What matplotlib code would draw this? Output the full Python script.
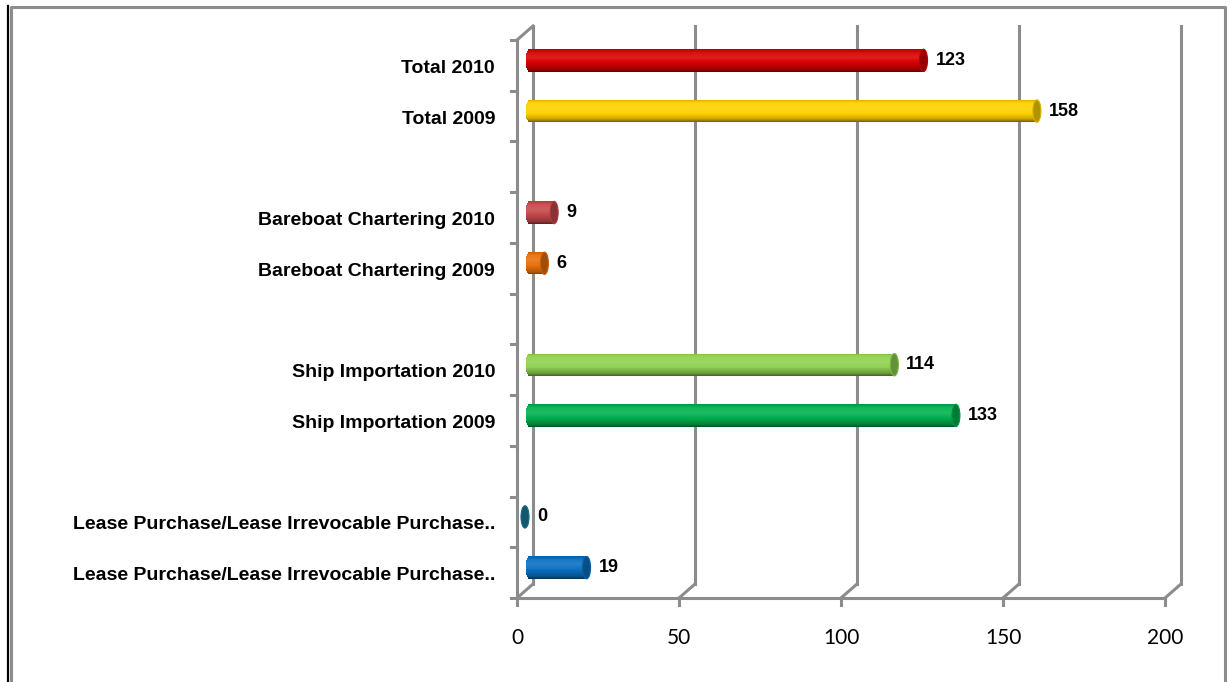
import matplotlib
matplotlib.use("Agg")
import matplotlib.pyplot as plt
import matplotlib.transforms as mtransforms
from matplotlib.patches import Ellipse
from matplotlib.lines import Line2D
import numpy as np
from matplotlib.colors import to_rgb

# ---- data (bottom to top) ----
categories = [
    "Lease Purchase/Lease Irrevocable Purchase..",
    "Lease Purchase/Lease Irrevocable Purchase..",
    "",
    "Ship Importation 2009",
    "Ship Importation 2010",
    "",
    "Bareboat Chartering 2009",
    "Bareboat Chartering 2010",
    "",
    "Total 2009",
    "Total 2010",
]
values = [19, 0, None, 133, 114, None, 6, 9, None, 158, 123]
colors = ["#0A6FC0", "#1B7C9C", None, "#00B04E", "#8FD14F", None,
          "#E8700C", "#C5484A", None, "#FFD000", "#D80000"]
xticks = [0, 50, 100, 150, 200]

W, H = 1230, 682
fig = plt.figure(figsize=(W / 100, H / 100), dpi=100)
fig.patch.set_facecolor("white")

x0p, x1p, y0p, y1p = 517, 1165, 598, 40
ax = fig.add_axes([x0p / W, 1 - y0p / H, (x1p - x0p) / W, (y0p - y1p) / H])
ax.set_xlim(0, 200)
ax.set_ylim(0, len(categories))
ax.axis("off")

grid_col = "#8C8C8C"
lw = 2.2

def off(dx, dy):
    return ax.transData + mtransforms.ScaledTranslation(dx / 100, dy / 100, fig.dpi_scale_trans)

n = len(categories)
# back-wall gridlines
gt = off(16, 14)
for xv in xticks:
    ax.add_line(Line2D([xv, xv], [0, n], color=grid_col, lw=lw, transform=gt,
                       clip_on=False, zorder=1))
for xv in xticks:
    px, py = ax.transData.transform((xv, 0))
    fig.add_artist(Line2D([px / W, (px + 16) / W], [py / H, (py + 14) / H],
                          color=grid_col, lw=lw, transform=fig.transFigure, zorder=1))
    fig.add_artist(Line2D([px / W, px / W], [py / H, (py - 7) / H],
                          color=grid_col, lw=lw, transform=fig.transFigure, zorder=1))
# top-left diagonal
px, py = ax.transData.transform((0, n))
fig.add_artist(Line2D([px / W, (px + 16) / W], [py / H, (py + 14) / H],
                      color=grid_col, lw=lw, transform=fig.transFigure, zorder=1))
# left axis and floor
ax.add_line(Line2D([0, 0], [0, n], color=grid_col, lw=lw, clip_on=False, zorder=1))
ax.add_line(Line2D([0, 200], [0, 0], color=grid_col, lw=lw, clip_on=False, zorder=1))
for k in range(n + 1):
    px, py = ax.transData.transform((0, k))
    fig.add_artist(Line2D([(px - 6) / W, px / W], [py / H, py / H],
                          color=grid_col, lw=lw, transform=fig.transFigure, zorder=1))

# bars as shaded cylinders
bt = off(8, 5)
bar_h = 0.44
nstrip = 24
sx = 200 / (x1p - x0p)  # data units per pixel
def shade(c, f):
    c = np.array(to_rgb(c))
    if f >= 0:
        return tuple(c + (1 - c) * f)
    return tuple(c * (1 + f))

for i, (v, c) in enumerate(zip(values, colors)):
    if v is None:
        continue
    capw = 8 * sx
    for s in range(nstrip):
        t = (s + 0.5) / nstrip  # 0 bottom, 1 top
        u = 2 * t - 1
        prof = np.interp(t, [0, 0.12, 0.4, 0.65, 0.85, 1.0],
                         [-0.55, -0.25, 0.0, 0.12, 0.06, -0.15])
        yb = i + 0.5 - bar_h / 2 + s * bar_h / nstrip
        lft = 0.5 * sx + capw / 2 * (1 - np.sqrt(max(0.0, 1 - u * u)))
        if v > lft:
            ax.barh(yb, v - lft, height=bar_h / nstrip * 1.05, left=lft, align="edge",
                    color=shade(c, prof), lw=0, transform=bt, zorder=3)
    ax.add_patch(Ellipse((v, i + 0.5), capw, bar_h, facecolor=shade(c, -0.3),
                         edgecolor=shade(c, -0.15), lw=0.8, transform=bt, zorder=4))
    ax.text(v + 12 * sx, i + 0.5, f"{v}", transform=bt, ha="left", va="center",
            fontsize=13, fontweight="bold", family="Liberation Sans", color="black",
            zorder=5)

# category labels
for i, lab in enumerate(categories):
    if lab:
        px, py = ax.transData.transform((0, i + 0.5))
        fig.text(495 / W, (py - 3) / H, lab, ha="right", va="center",
                 fontsize=14, fontweight="bold", family="Liberation Sans")

# x tick labels
for xv in xticks:
    px, py = ax.transData.transform((xv, 0))
    fig.text(px / W, (H - 638) / H, f"{xv}", ha="center", va="center",
             fontsize=15, family="Lato")

# frame
fig.add_artist(Line2D([11 / W, 11 / W, 1225 / W, 1225 / W],
                      [0, (H - 7) / H, (H - 7) / H, 0], color="#8C8C8C", lw=2.2,
                      transform=fig.transFigure))
fig.add_artist(Line2D([8 / W, 8 / W], [0, (H - 6) / H], color="black", lw=1.6,
                      transform=fig.transFigure))

fig.savefig("out.png", dpi=100, facecolor="white")
